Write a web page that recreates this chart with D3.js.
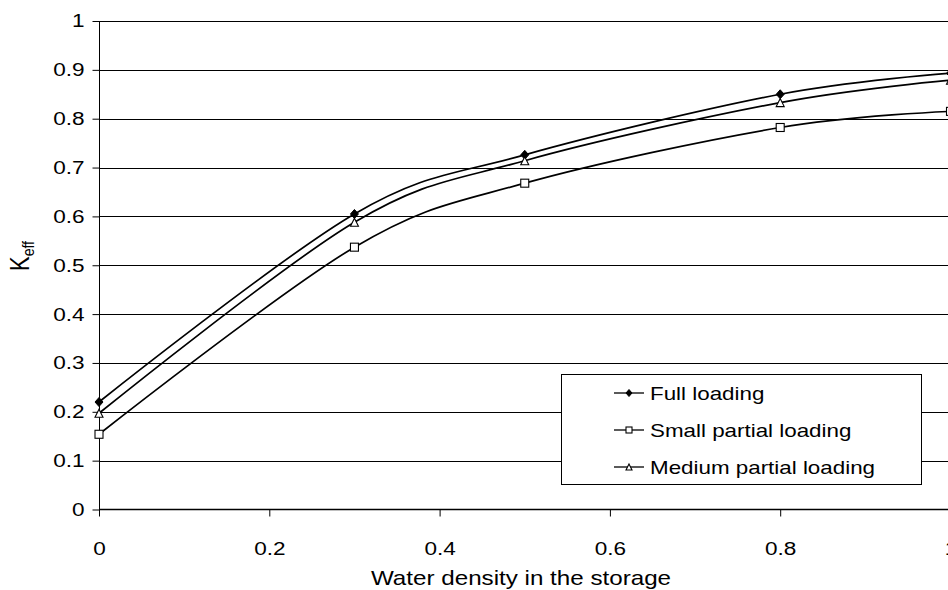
<!DOCTYPE html>
<html>
<head>
<meta charset="utf-8">
<script src="https://cdn.jsdelivr.net/npm/d3@7"></script>
<style>
  html, body { margin: 0; padding: 0; background: #fff; }
  svg { display: block; font-family: "Liberation Sans", Arial, sans-serif; }
</style>
</head>
<body>
<svg id="chart" width="948" height="590"></svg>
<script>
// Water density values where k-eff was computed
const density = [0, 0.3, 0.5, 0.8, 1.0];
// k-eff for each loading configuration
const fullLoading = [0.220, 0.605, 0.726, 0.850, 0.893];
const smallPartial = [0.154, 0.537, 0.668, 0.782, 0.815];
const mediumPartial = [0.197, 0.588, 0.714, 0.833, 0.879];
const seriesNames = ["Full loading", "Small partial loading", "Medium partial loading"];
const markerTypes = ["diamond", "square", "triangle"];
const yTicks = [0, 0.1, 0.2, 0.3, 0.4, 0.5, 0.6, 0.7, 0.8, 0.9, 1];
const xTicks = [0, 0.2, 0.4, 0.6, 0.8, 1];

const seriesValues = [fullLoading, smallPartial, mediumPartial];

const svg = d3.select("#chart");
const plotLeft = 99, plotRight = 950.5, plotTop = 21, plotBottom = 509.5;
// text in this chart is set wide: glyphs are stretched horizontally
const widen = 1.22;

const x = d3.scaleLinear().domain([0, 1]).range([plotLeft, plotRight]);
const y = d3.scaleLinear().domain([0, 1]).range([plotBottom, plotTop]);

// horizontal gridlines
svg.append("g")
  .selectAll("line")
  .data(yTicks.filter(d => d > 0))
  .join("line")
  .attr("x1", plotLeft).attr("x2", 948)
  .attr("y1", d => Math.round(y(d)) + 0.5).attr("y2", d => Math.round(y(d)) + 0.5)
  .attr("stroke", "#000").attr("stroke-width", 1);

// y axis
const yAxis = svg.append("g")
  .attr("transform", `translate(${plotLeft + 0.5},0)`)
  .call(d3.axisLeft(y).tickValues(yTicks).tickSize(7).tickPadding(7).tickFormat(d3.format("")));
yAxis.select(".domain").attr("stroke", "#000").attr("d", `M0,${plotTop}V${plotBottom}`);
yAxis.selectAll(".tick line").attr("stroke", "#000");
yAxis.selectAll("text")
  .attr("font-size", 18.5).attr("fill", "#000")
  .attr("font-family", "Liberation Sans, Arial, sans-serif")
  .attr("x", 0)
  .attr("transform", `translate(-15,0) scale(${widen},1)`);

// x axis
const xAxis = svg.append("g")
  .attr("transform", `translate(0,${plotBottom})`)
  .call(d3.axisBottom(x).tickValues(xTicks).tickSize(7).tickPadding(13).tickFormat(d3.format("")));
xAxis.select(".domain").attr("stroke", "#000").attr("stroke-width", 1.4).attr("d", `M${plotLeft},0H948`);
xAxis.selectAll(".tick line").attr("stroke", "#000");
xAxis.selectAll("text")
  .attr("font-size", 18.5).attr("fill", "#000")
  .attr("font-family", "Liberation Sans, Arial, sans-serif")
  .attr("y", 0)
  .attr("transform", `translate(0,32) scale(${widen},1)`);

// axis titles
svg.append("text")
  .attr("transform", `translate(521,585) scale(1.18,1)`)
  .attr("text-anchor", "middle")
  .attr("font-size", 20.5)
  .text("Water density in the storage");

const yTitle = svg.append("text")
  .attr("transform", `translate(29,256) scale(${widen},1) rotate(-90)`)
  .attr("text-anchor", "middle")
  .attr("font-size", 22);
yTitle.append("tspan").text("K");
yTitle.append("tspan").attr("font-size", 14).attr("dy", 4).text("eff");

// smoothed series lines
const line = d3.line()
  .x(d => x(d[0]))
  .y(d => y(d[1]))
  .curve(d3.curveCardinal.tension(0));

function drawMarker(g, type, cx, cy, s) {
  if (type === "diamond") {
    g.append("path")
      .attr("d", `M${cx},${cy - s - 0.5}L${cx + s},${cy}L${cx},${cy + s + 0.5}L${cx - s},${cy}Z`)
      .attr("fill", "#000").attr("stroke", "#000").attr("stroke-width", 1);
  } else if (type === "square") {
    g.append("rect")
      .attr("x", cx - s).attr("y", cy - s)
      .attr("width", 2 * s).attr("height", 2 * s)
      .attr("fill", "#fff").attr("stroke", "#000").attr("stroke-width", 1.1);
  } else {
    g.append("path")
      .attr("d", `M${cx},${cy - s}L${cx + s},${cy + s}L${cx - s},${cy + s}Z`)
      .attr("fill", "#fff").attr("stroke", "#000").attr("stroke-width", 1.1);
  }
}

seriesValues.forEach((vals, i) => {
  const pts = density.map((d, j) => [d, vals[j]]);
  const g = svg.append("g");
  g.append("path")
    .datum(pts)
    .attr("d", line)
    .attr("fill", "none")
    .attr("stroke", "#000")
    .attr("stroke-width", 1.7);
  pts.forEach(p => drawMarker(g, markerTypes[i], x(p[0]), y(p[1]), 4));
});

// legend
const legend = svg.append("g");
legend.append("rect")
  .attr("x", 561.5).attr("y", 374.5).attr("width", 360).attr("height", 110)
  .attr("fill", "#fff").attr("stroke", "#000").attr("stroke-width", 1);
seriesNames.forEach((name, i) => {
  const ly = 393 + i * 37;
  legend.append("line")
    .attr("x1", 614).attr("x2", 644).attr("y1", ly).attr("y2", ly)
    .attr("stroke", "#000").attr("stroke-width", 1.3);
  drawMarker(legend, markerTypes[i], 629, ly, 3);
  legend.append("text")
    .attr("transform", `translate(650,${ly + 6.5}) scale(1.21,1)`)
    .attr("font-size", 18.5)
    .text(name);
});
</script>
</body>
</html>
